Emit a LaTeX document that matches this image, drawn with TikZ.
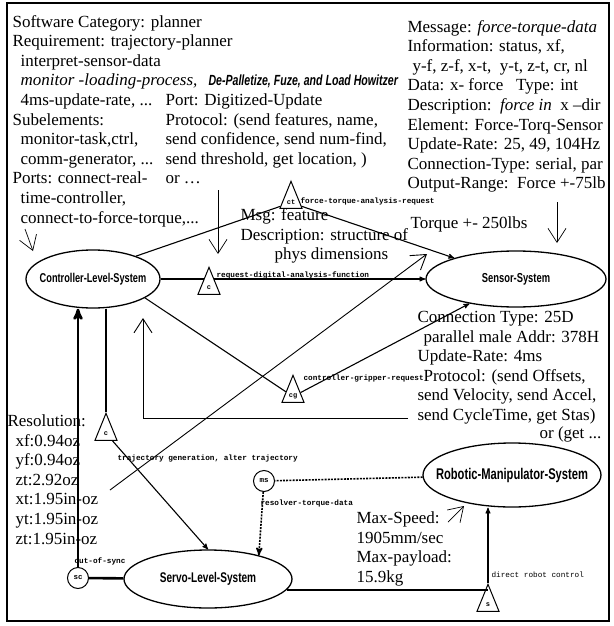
\documentclass[tikz,border=0pt]{standalone}
\usepackage{fontspec}
\setmainfont{Liberation Serif}
\newfontfamily\sysfont[FakeStretch=0.72]{Liberation Sans}
\newfontfamily\msgfont{Liberation Mono}
\usetikzlibrary{arrows,arrows.meta,calc,shapes.geometric}

\begin{document}
\begin{tikzpicture}[x=1pt,y=-1pt,->,>=stealth',line width=1.1pt,
  sys node/.style={ellipse,draw,line width=1.3pt,inner sep=0pt},
  sys text/.style={font=\sysfont\bfseries\fontsize{#1}{#1}\selectfont},
  port node/.style={isosceles triangle,shape border rotate=90,isosceles triangle stretches,draw,line width=1pt,
    minimum width=22pt,minimum height=27pt,inner sep=0pt,anchor=apex,font=\msgfont\bfseries\fontsize{7}{7}\selectfont},
  sync node/.style={circle,draw,line width=1pt,inner sep=0pt,minimum size=21pt,font=\msgfont\bfseries\fontsize{7.5}{7.5}\selectfont},
  msg node/.style={inner sep=0pt,anchor=base west,font=\msgfont\bfseries\fontsize{7.7}{7.7}\selectfont},
  text node/.style={inner sep=0pt,anchor=north west,align=left,font=\fontsize{17}{19.6}\selectfont},
  dash line/.style={line width=1.6pt,dash pattern=on 2pt off 1.2pt},
  hand/.style={-{Straight Barb[length=14pt,width=18pt]},line width=0.7pt}]

\useasboundingbox (0,0) rectangle (613,626);
\draw[-,line width=1.3pt] (7,3) rectangle (609,621);

\node[sys node,minimum width=134pt,minimum height=58pt,label={[sys text=12.8]center:Controller-Level-System}](Controller) at (93,279) {};
\node[sys node,minimum width=180pt,minimum height=56pt,label={[sys text=13]center:Sensor-System}](Sensor) at (516,279) {};
\node[sys node,minimum width=178pt,minimum height=64pt,label={[sys text=15.5]center:Robotic-Manipulator-System}](Robot) at (512,475) {};
\node[sys node,minimum width=168pt,minimum height=58pt,label={[sys text=14]center:Servo-Level-System}](Servo) at (208,579) {};

\node[port node](ctReq) at (291,180) {ct};
\node[port node](cReq) at (209,266) {c};
\node[port node](cgReq) at (293,374) {cg};
\node[port node](cTraj) at (106,412) {c};
\node[port node](sCtrl) at (488,583) {s};
\node[sync node](msData) at (264,481) {ms};
\node[sync node](scSync) at (78,578) {sc};

\node[msg node](ctLabel) at (300,203) {force-torque-analysis-request};
\node[msg node](cLabel) at (216,277) {request-digital-analysis-function};
\node[msg node](cgLabel) at (303,380) {controller-gripper-request};
\node[msg node](trajLabel) at (117,460) {trajectory generation, alter trajectory};
\node[msg node](msLabel) at (260,505) {resolver-torque-data};
\node[msg node](scLabel) at (74,563) {out-of-sync};
\node[msg node,font=\msgfont\fontsize{7.7}{7.7}\selectfont](sLabel) at (491,577) {direct robot control};

\node[text node](plannerText) at (12,12.8) {\strut Software Category: planner\\
Requirement: trajectory-planner\\
\hspace*{8pt}interpret-sensor-data\\
\hspace*{8pt}\textit{monitor -loading-process,}\\
\hspace*{8pt}4ms-update-rate, ...\\
Subelements:\\
\hspace*{8pt}monitor-task,ctrl,\\
\hspace*{8pt}comm-generator, ...\\
Ports: connect-real-\\
\hspace*{8pt}time-controller,\\
\hspace*{8pt}connect-to-force-torque,...};
\node[inner sep=0pt,anchor=base west,font=\sysfont\bfseries\itshape\fontsize{14.7}{14.7}\selectfont](taskText) at (208,85.3) {De-Palletize, Fuze, and Load Howitzer};
\node[text node](portText) at (165,91.2) {\strut Port: Digitized-Update\\
Protocol: (send features, name,\\
send confidence, send num-find,\\
send threshold, get location, )\\
or \ldots};
\node[text node](msgText) at (407,17.8) {\strut Message: \textit{force-torque-data}\\
Information: status, xf,\\
\hspace*{5pt}y-f, z-f, x-t,\ \ y-t, z-t, cr, nl\\
Data: x- force\ \ \ Type: int\\
Description:\ \ \textit{force in}\ \ x --dir\\
Element: Force-Torq-Sensor\\
Update-Rate: 25, 49, 104Hz\\
Connection-Type: serial, par\\
Output-Range:\ \ Force +-75lb};
\node[text node](torqueText) at (410,214.3) {\strut Torque +- 250lbs};
\node[text node](featureText) at (240,206.3) {\strut Msg: feature\\
Description: structure of\\
\hspace*{34pt}phys dimensions};
\node[text node](connText) at (417,308.3) {\strut Connection Type: 25D\\
\hspace*{6pt}parallel male Addr: 378H\\
Update-Rate: 4ms\\
\hspace*{6pt}Protocol: (send Offsets,\\
send Velocity, send Accel,\\
send CycleTime, get Stas)};
\node[text node,anchor=base east](getText) at (602,438) {or (get ...};
\node[text node](resText) at (7,412.3) {\strut Resolution:\\
\hspace*{8pt}xf:0.94oz\\
\hspace*{8pt}yf:0.94oz\\
\hspace*{8pt}zt:2.92oz\\
\hspace*{8pt}xt:1.95in-oz\\
\hspace*{8pt}yt:1.95in-oz\\
\hspace*{8pt}zt:1.95in-oz};
\node[text node](speedText) at (356,509.3) {\strut Max-Speed:\\
1905mm/sec\\
Max-payload:\\
15.9kg};

\path
(Controller.28) edge[-] (ctReq)
(ctReq) edge (Sensor)
(Controller.east) edge[-,shorten >=5pt] (Controller.east -| cReq.apex)
(Controller.east -| cReq.apex) edge[shorten <=5pt] (Sensor.west)
(Controller.-20) edge[-] (cgReq)
(cgReq) edge (Sensor)
(cTraj.apex |- Controller.south) edge[-] (cTraj.apex)
(cTraj) edge (Servo.north)
(scSync.north) edge[line width=2.6pt] (scSync.north |- Controller.south)
(scSync) edge[-,line width=2.6pt] (Servo)
(Robot) edge[-,dash line] (msData)
(msData) edge[dash line] (Servo.25)
(Servo.-8) edge[-] (sCtrl.apex |- Servo.-8)
(sCtrl.apex) edge (sCtrl.apex |- Robot.south);

\coordinate (ptrCtrlTail) at (25,229);
\coordinate (ptrCtrlTip) at (33,251);
\coordinate (ptrPortTail) at (218,190);
\coordinate (ptrPortTip) at (218,254);
\coordinate (ptrTorqueTail) at (557,202);
\coordinate (ptrTorqueTip) at (557,243);
\coordinate (ptrResTail) at (110,490);
\coordinate (ptrResTip) at (427,254);
\coordinate (ptrProtoTail) at (408,418);
\coordinate (ptrProtoTip) at (143,318);
\coordinate (ptrMaxTail) at (448,522);
\coordinate (ptrMaxTip) at (464,506);

\draw[hand] (ptrCtrlTail) -- (ptrCtrlTip);
\draw[hand] (ptrPortTail) -- (ptrPortTip);
\draw[hand] (ptrTorqueTail) -- (ptrTorqueTip);
\draw[hand,line width=0.9pt] (ptrResTail) -- (ptrResTip);
\draw[hand,line width=0.9pt] (ptrProtoTail) -| (ptrProtoTip);
\draw[hand] (ptrMaxTail) -- (ptrMaxTip);
\end{tikzpicture}
\end{document}
